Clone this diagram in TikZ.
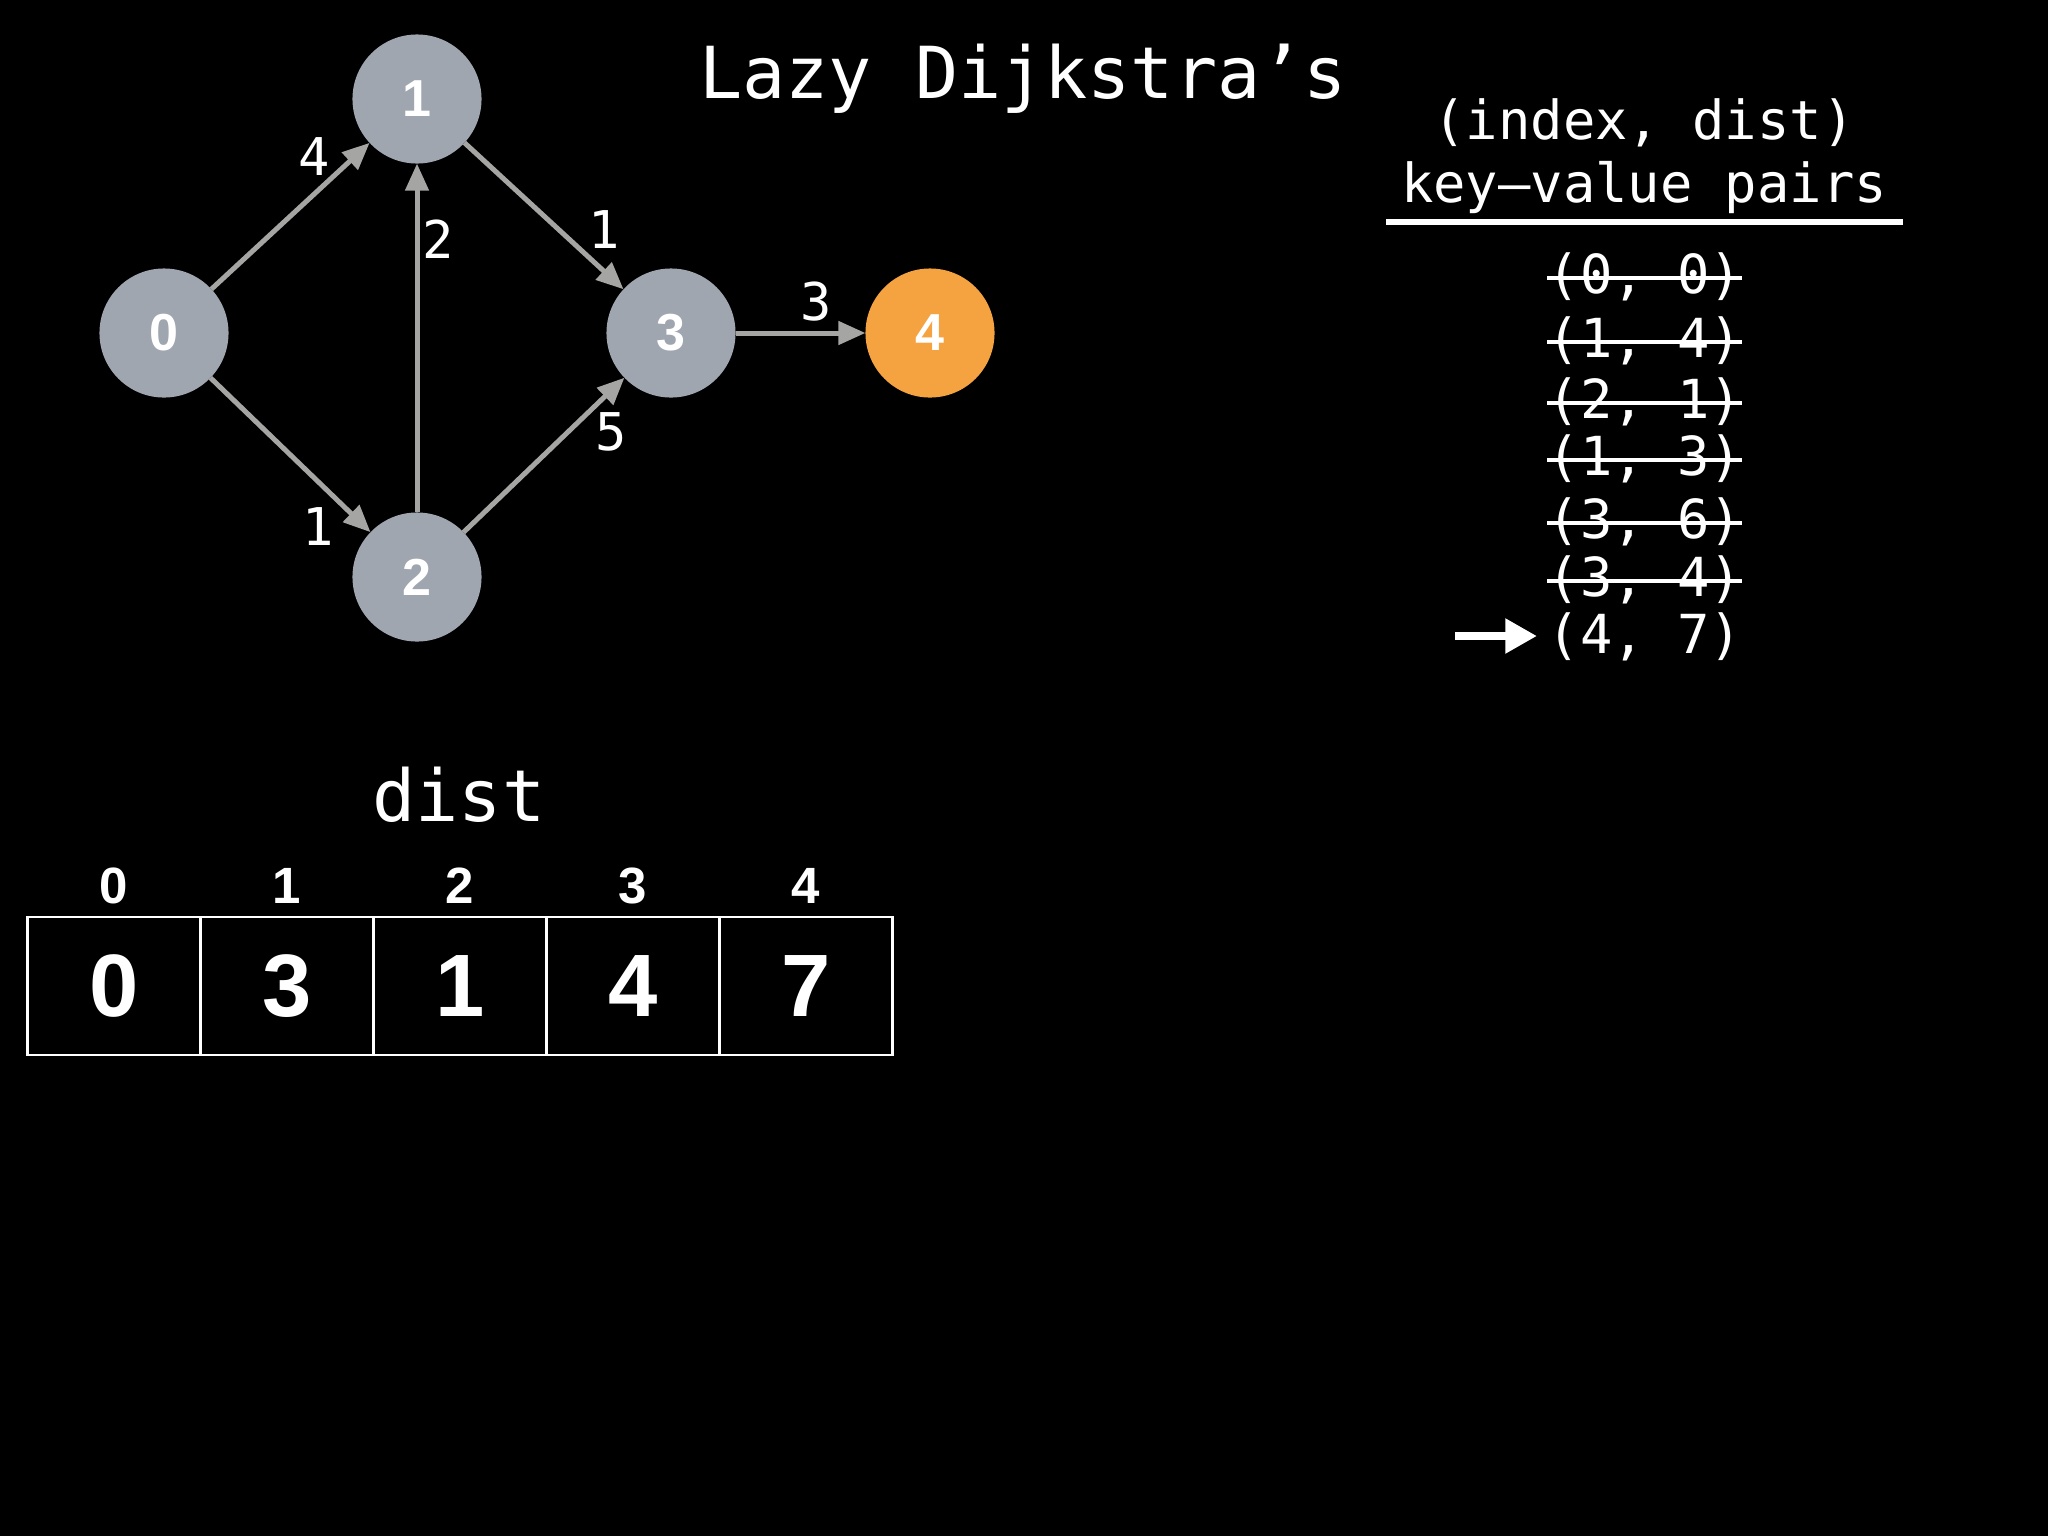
\documentclass[tikz,border=0pt]{standalone}
\usepackage{fontspec}
\setmonofont{DejaVu Sans Mono}
\newfontfamily\helv{Liberation Sans}
\usetikzlibrary{arrows.meta}
\definecolor{nodegray}{HTML}{A0A6AF}
\definecolor{edgegray}{HTML}{A5A5A3}
\definecolor{nodeorange}{HTML}{F4A340}
\begin{document}
\begin{tikzpicture}[x=0.01cm,y=-0.01cm,
  vertex/.style={circle,fill=nodegray,minimum size=1.29cm,inner sep=0pt,outer sep=0pt,
    text=white,font=\helv\bfseries\fontsize{14.8}{16}\selectfont},
  edge/.style={draw=edgegray,line width=1.42pt,-{Triangle[length=7.7pt,width=6.5pt]}},
  elabel/.style={text=white,inner sep=0pt,font=\ttfamily\fontsize{14.8}{17}\selectfont},
  mono/.style={text=white,inner sep=0pt,anchor=base,font=\ttfamily\fontsize{15.3}{17}\selectfont},
  strike/.style={draw=white,line width=0.9pt},
  cell/.style={draw=white!85,line width=0.6pt,minimum width=1.729cm,minimum height=1.38cm,
    inner sep=0pt,outer sep=0pt,text=white,font=\helv\bfseries\fontsize{25.2}{28}\selectfont},
  idx/.style={text=white,inner sep=0pt,font=\helv\bfseries\fontsize{14.5}{16}\selectfont},
  bigarrow/.style={draw=white,line width=2.3pt,-{Triangle[length=9pt,width=9.4pt]}}
]
\fill[black] (0,0) rectangle (2048,1536);
\useasboundingbox (0,0) rectangle (2048,1536);

% title
\node[text=white,inner sep=0pt,anchor=base,font=\ttfamily\fontsize{20.4}{24}\selectfont] (title) at (1023,98) {Lazy Dijkstra’s};

% graph
\node[vertex] (n0) at (164,333) {0};
\node[vertex] (n1) at (417,99) {1};
\node[vertex] (n2) at (417,577) {2};
\node[vertex] (n3) at (671,333) {3};
\node[vertex,fill=nodeorange] (n4) at (930,333) {4};

\draw[edge] (n0) -- (n1);
\draw[edge] (n0) -- (n2);
\draw[edge] (n2) -- (n1);
\draw[edge] (n1) -- (n3);
\draw[edge] (n2) -- (n3);
\draw[edge] (n3) -- (n4);

\node[elabel] (l01) at (314,157) {4};
\node[elabel] (l21) at (438,239) {2};
\node[elabel] (l13) at (604,230) {1};
\node[elabel] (l23) at (611,432) {5};
\node[elabel] (l02) at (318,527) {1};
\node[elabel] (l34) at (816,302) {3};

% key-value list
\node[mono] (h1) at (1644,139) {(index, dist)};
\node[mono] (h2) at (1644,202) {key–value pairs};
\draw[white,line width=1.45pt] (1386,222) -- (1903,222);

\node[mono] (r1) at (1645,293) {(0, 0)};
\node[mono] (r2) at (1645,357) {(1, 4)};
\node[mono] (r3) at (1645,418) {(2, 1)};
\node[mono] (r4) at (1645,475) {(1, 3)};
\node[mono] (r5) at (1645,538) {(3, 6)};
\node[mono] (r6) at (1645,596) {(3, 4)};
\node[mono] (r7) at (1645,653) {(4, 7)};

\draw[strike] (1547,278) -- (1742,278);
\draw[strike] (1547,342) -- (1742,342);
\draw[strike] (1547,403) -- (1742,403);
\draw[strike] (1547,460) -- (1742,460);
\draw[strike] (1547,523) -- (1742,523);
\draw[strike] (1547,581) -- (1742,581);

\coordinate (as) at (1455,636);
\coordinate (ae) at (1537,636);
\draw[bigarrow] (as) -- (ae);

% dist array
\node[text=white,inner sep=0pt,anchor=base,font=\ttfamily\fontsize{20.4}{24}\selectfont] (dl) at (459,821) {dist};
\node[cell] (c0) at (114,986) {0};
\node[cell] (c1) at (287,986) {3};
\node[cell] (c2) at (460,986) {1};
\node[cell] (c3) at (633,986) {4};
\node[cell] (c4) at (806,986) {7};
\node[idx] (i0) at (114,886) {0};
\node[idx] (i1) at (287,886) {1};
\node[idx] (i2) at (460,886) {2};
\node[idx] (i3) at (633,886) {3};
\node[idx] (i4) at (806,886) {4};
\end{tikzpicture}
\end{document}
